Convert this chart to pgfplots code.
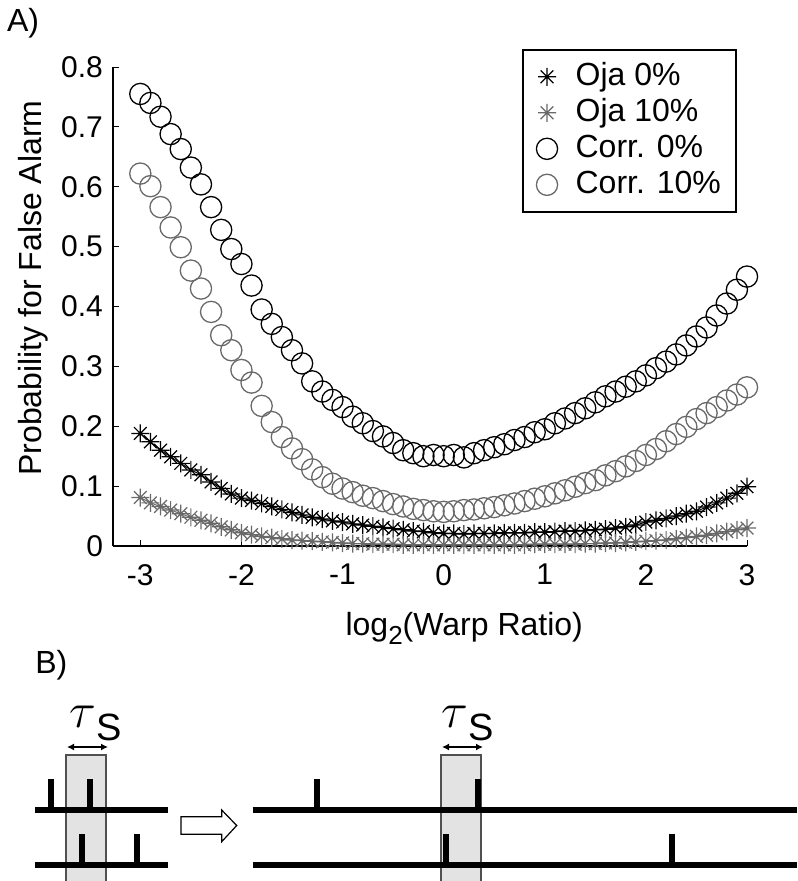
\documentclass[border=0pt]{standalone}
\usepackage{fontspec}
\setmainfont{Liberation Sans}
\usepackage{pgfplots}
\usepackage{pgfplotstable}
\pgfplotsset{compat=1.18}
\usetikzlibrary{arrows.meta}
\definecolor{grayser}{RGB}{105,105,105}
\definecolor{boxfill}{RGB}{227,227,227}
\definecolor{boxedge}{RGB}{80,80,80}

% MATLAB-like '*' marker: a + and an x on top of each other
\pgfdeclareplotmark{mstar}{%
  \pgfpathmoveto{\pgfqpoint{-\pgfplotmarksize}{0pt}}\pgfpathlineto{\pgfqpoint{\pgfplotmarksize}{0pt}}%
  \pgfpathmoveto{\pgfqpoint{0pt}{-\pgfplotmarksize}}\pgfpathlineto{\pgfqpoint{0pt}{\pgfplotmarksize}}%
  \pgfpathmoveto{\pgfqpoint{-0.7071\pgfplotmarksize}{-0.7071\pgfplotmarksize}}\pgfpathlineto{\pgfqpoint{0.7071\pgfplotmarksize}{0.7071\pgfplotmarksize}}%
  \pgfpathmoveto{\pgfqpoint{-0.7071\pgfplotmarksize}{0.7071\pgfplotmarksize}}\pgfpathlineto{\pgfqpoint{0.7071\pgfplotmarksize}{-0.7071\pgfplotmarksize}}%
  \pgfusepathqstroke}

\pgfplotstableread{
x    oja0  oja10 corr0 corr10
-3.0 0.188 0.081 0.755 0.622
-2.9 0.174 0.072 0.740 0.601
-2.8 0.160 0.066 0.717 0.566
-2.7 0.149 0.060 0.688 0.532
-2.6 0.138 0.054 0.663 0.499
-2.5 0.127 0.048 0.632 0.460
-2.4 0.119 0.043 0.604 0.430
-2.3 0.107 0.038 0.566 0.391
-2.2 0.096 0.032 0.528 0.352
-2.1 0.087 0.027 0.496 0.327
-2.0 0.080 0.022 0.471 0.294
-1.9 0.076 0.019 0.435 0.273
-1.8 0.071 0.016 0.395 0.234
-1.7 0.066 0.014 0.371 0.207
-1.6 0.061 0.012 0.349 0.182
-1.5 0.056 0.010 0.327 0.163
-1.4 0.052 0.009 0.305 0.145
-1.3 0.048 0.008 0.275 0.128
-1.2 0.045 0.007 0.258 0.115
-1.1 0.042 0.006 0.244 0.104
-1.0 0.040 0.005 0.232 0.096
-0.9 0.037 0.004 0.216 0.090
-0.8 0.035 0.004 0.205 0.084
-0.7 0.033 0.003 0.192 0.080
-0.6 0.031 0.003 0.183 0.075
-0.5 0.029 0.003 0.172 0.070
-0.4 0.027 0.002 0.160 0.066
-0.3 0.025 0.002 0.155 0.062
-0.2 0.024 0.002 0.150 0.060
-0.1 0.022 0.002 0.152 0.058
0.0  0.021 0.002 0.150 0.057
0.1  0.021 0.002 0.152 0.058
0.2  0.020 0.002 0.148 0.060
0.3  0.021 0.002 0.155 0.061
0.4  0.021 0.002 0.160 0.063
0.5  0.021 0.002 0.165 0.065
0.6  0.022 0.002 0.170 0.068
0.7  0.022 0.002 0.177 0.071
0.8  0.022 0.002 0.182 0.075
0.9  0.023 0.003 0.190 0.079
1.0  0.023 0.003 0.195 0.083
1.1  0.024 0.003 0.205 0.088
1.2  0.025 0.003 0.213 0.093
1.3  0.025 0.003 0.222 0.099
1.4  0.026 0.004 0.230 0.105
1.5  0.027 0.004 0.240 0.110
1.6  0.028 0.005 0.250 0.118
1.7  0.030 0.005 0.258 0.125
1.8  0.032 0.006 0.266 0.133
1.9  0.035 0.007 0.275 0.142
2.0  0.040 0.008 0.285 0.152
2.1  0.043 0.009 0.297 0.162
2.2  0.046 0.010 0.308 0.175
2.3  0.050 0.012 0.320 0.187
2.4  0.054 0.014 0.335 0.199
2.5  0.058 0.016 0.350 0.212
2.6  0.065 0.018 0.365 0.222
2.7  0.072 0.021 0.385 0.232
2.8  0.080 0.024 0.405 0.243
2.9  0.088 0.027 0.428 0.253
3.0  0.099 0.030 0.450 0.265
}\datatab

\newcommand{\tickfont}{\fontsize{15}{18}\selectfont}
\newcommand{\labfont}{\fontsize{16}{19}\selectfont}

\begin{document}
\begin{tikzpicture}
\useasboundingbox (0,0) rectangle (398.5pt,-440.5pt);

\node[anchor=base west, inner sep=0pt, font=\labfont] at (3.3pt,-15.8pt) {A)};

% ---- panel A
\begin{axis}[
  at={(56.5pt,-273pt)}, anchor=south west,
  scale only axis, width=317pt, height=239.5pt,
  xmin=-3.27, xmax=3, ymin=0, ymax=0.8,
  axis x line*=bottom, axis y line*=left,
  axis line style={-, line width=0.6pt},
  xtick={-3,-2,-1,0,1,2,3}, xticklabels={-3,-2,-1,0,1,2,3},
  ytick={0,0.1,0.2,0.3,0.4,0.5,0.6,0.7,0.8},
  yticklabels={0,0.1,0.2,0.3,0.4,0.5,0.6,0.7,0.8},
  tick align=inside, major tick length=3pt,
  tick style={black, line width=0.5pt},
  tick label style={font=\tickfont},
  xticklabel style={yshift=-5.5pt},
  yticklabel style={xshift=-1.5pt},
  xlabel={log\raisebox{-0.3em}{\fontsize{13}{15}\selectfont 2}(Warp Ratio)},
  xlabel style={font=\labfont, at={(axis description cs:0.554,0)}, anchor=base, yshift=-44.5pt},
  ylabel={Probability for False Alarm},
  ylabel style={font=\labfont, at={(axis description cs:-0.1262,0.5386)}, anchor=center},
  clip=false,
  legend style={at={(axis description cs:0.984,1.0376)}, anchor=north east,
    draw=black, line width=1pt, font=\labfont,
    inner xsep=6.5pt, inner ysep=5pt, row sep=1.2pt,
    nodes={inner sep=1pt, text height=11.5pt, text depth=3.3pt},
    /tikz/every odd column/.append style={column sep=8pt}},
  legend cell align=left,
]
\addplot[black, line width=0.5pt, forget plot] table[x=x, y=oja0] {\datatab};
\addplot[grayser, line width=0.5pt, forget plot] table[x=x, y=oja10] {\datatab};
\addplot[black, only marks, mark=mstar, mark size=4.5pt, mark options={line width=0.6pt}] table[x=x, y=oja0] {\datatab};
\addplot[grayser, only marks, mark=mstar, mark size=4.5pt, mark options={line width=0.6pt}] table[x=x, y=oja10] {\datatab};
\addplot[black, only marks, mark=o, mark size=5.3pt, mark options={line width=0.65pt}] table[x=x, y=corr0] {\datatab};
\addplot[grayser, only marks, mark=o, mark size=5.3pt, mark options={line width=0.65pt}] table[x=x, y=corr10] {\datatab};
\legend{Oja 0\%, Oja 10\%, Corr. 0\%, Corr. 10\%}
\end{axis}

% ---- panel B (units: pixels of the figure, y downwards)
\begin{axis}[
  at={(0pt,-440.5pt)}, anchor=south west,
  scale only axis, width=398.5pt, height=120.5pt,
  xmin=0, xmax=797, ymin=640, ymax=881, y dir=reverse,
  hide axis, clip=false,
]
\node[anchor=base west, inner sep=0pt, font=\labfont] at (axis cs:35,673.5) {B)};
% shaded windows
\addplot[fill=boxfill, draw=none] coordinates {(66,755) (106,755) (106,881) (66,881)};
\addplot[boxedge, line width=0.6pt] coordinates {(66,881) (66,755) (106,755) (106,881)};
\addplot[fill=boxfill, draw=none] coordinates {(441,755) (481,755) (481,881) (441,881)};
\addplot[boxedge, line width=0.6pt] coordinates {(441,881) (441,755) (481,755) (481,881)};
% spike trains
\addplot[black, line width=3.3pt] coordinates {(35,810) (168,810)};
\addplot[black, line width=3.3pt] coordinates {(35,865) (168,865)};
\addplot[black, line width=3.3pt] coordinates {(252.5,810) (797,810)};
\addplot[black, line width=3.3pt] coordinates {(252.5,865) (797,865)};
% spikes
\addplot[black, line width=2.85pt] coordinates {(51.2,779.3) (51.2,810)};
\addplot[black, line width=2.85pt] coordinates {(90.3,779.3) (90.3,810)};
\addplot[black, line width=2.85pt] coordinates {(82,834.3) (82,865)};
\addplot[black, line width=2.85pt] coordinates {(137.2,834.3) (137.2,865)};
\addplot[black, line width=2.85pt] coordinates {(317,779.3) (317,810)};
\addplot[black, line width=2.85pt] coordinates {(478.3,779.3) (478.3,810)};
\addplot[black, line width=2.85pt] coordinates {(445.8,834.3) (445.8,865)};
\addplot[black, line width=2.85pt] coordinates {(671.7,834.3) (671.7,865)};
% hollow arrow
\addplot[black, fill=white, line width=0.6pt, line join=miter] coordinates {(181,816.7) (221.7,816.7) (221.7,810) (236.7,825.5) (221.7,841.7) (221.7,834.3) (181,834.3) (181,816.7) (221.7,816.7)};
% window width arrows and labels
\addplot[black, line width=0.7pt, {Latex[length=3.5pt,width=3.5pt]}-{Latex[length=3.5pt,width=3.5pt]}] coordinates {(67,747) (108,747)};
\addplot[black, line width=0.7pt, {Latex[length=3.5pt,width=3.5pt]}-{Latex[length=3.5pt,width=3.5pt]}] coordinates {(442,747) (483,747)};
\node[anchor=base west, inner sep=0pt] at (axis cs:69,727) {\fontsize{26}{30}\selectfont$\tau$\raisebox{-6.5pt}{\fontsize{19}{22}\selectfont S}};
\node[anchor=base west, inner sep=0pt] at (axis cs:441,727) {\fontsize{26}{30}\selectfont$\tau$\raisebox{-6.5pt}{\fontsize{19}{22}\selectfont S}};
\end{axis}
\end{tikzpicture}
\end{document}
